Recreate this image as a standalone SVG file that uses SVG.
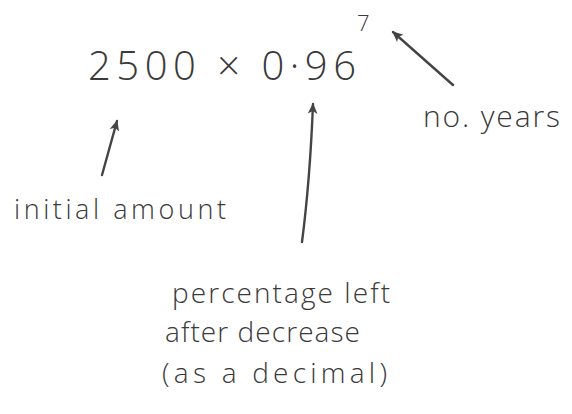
<svg xmlns="http://www.w3.org/2000/svg" width="572" height="414" viewBox="0 0 572 414">
<style>
.t{font-family:"Open Sans","DejaVu Sans",sans-serif;fill:#3a3a3a;font-weight:300}
.c{stroke:#444;stroke-width:2.4;fill:none;stroke-linecap:round}
</style>
<defs>
<marker id="ah" viewBox="0 0 10 10" refX="9" refY="5" markerWidth="4.5" markerHeight="4.5" orient="auto" markerUnits="strokeWidth">
<path d="M0,0.5 L10,5 L0,9.5 L2.5,5 Z" fill="#444"/>
</marker>
</defs>
<rect width="572" height="414" fill="#fff"/>
<g id="expression">
<text class="t" x="88" y="80" font-size="40" textLength="268" lengthAdjust="spacing">2500 × 0·96</text>
<text class="t" x="357" y="31" font-size="22">7</text>
</g>
<g id="label-years">
<text class="t" x="423" y="127" font-size="30" textLength="137" lengthAdjust="spacing">no. years</text>
</g>
<g id="label-initial">
<text class="t" x="14" y="219" font-size="27" textLength="212" lengthAdjust="spacing">initial amount</text>
</g>
<g id="label-percentage">
<text class="t" x="172" y="303" font-size="28" textLength="218" lengthAdjust="spacing">percentage left</text>
<text class="t" x="165" y="342" font-size="28" textLength="195" lengthAdjust="spacing">after decrease</text>
<text class="t" x="162" y="383" font-size="28" textLength="225" lengthAdjust="spacing">(as a decimal)</text>
</g>
<g id="connectors">
<path class="c" d="M453,85 L393,32" marker-end="url(#ah)"/>
<path class="c" d="M102,175 L117,121" marker-end="url(#ah)"/>
<path class="c" d="M302,242 Q310,180 313,104" marker-end="url(#ah)"/>
</g>
</svg>
